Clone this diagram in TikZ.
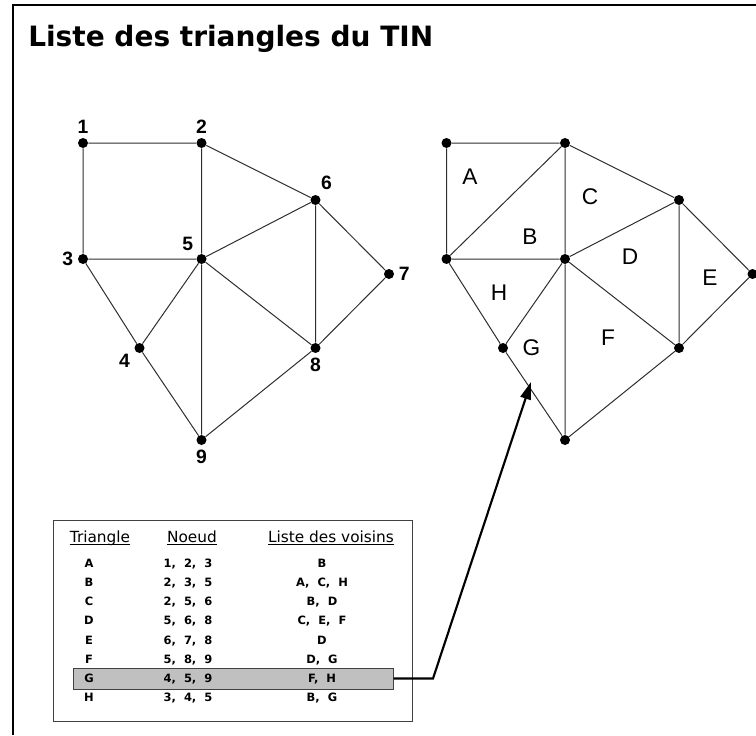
\documentclass[tikz,border=0pt]{standalone}
\usepackage{fontspec}
\setmainfont{Liberation Sans}
\newfontfamily\comicf{DejaVu Sans}
\usetikzlibrary{arrows.meta}
\definecolor{edgec}{HTML}{2E2E2E}
\definecolor{rowc}{HTML}{C0C0C0}
\definecolor{boxc}{HTML}{404040}
\newcommand\cellfont{\comicf\bfseries\fontsize{8.6}{10}\selectfont\spaceskip 0.7em\relax}
\tikzset{
  vtx/.style={circle, fill=black, inner sep=0pt, minimum size=7.5pt},
  num/.style={font=\bfseries\fontsize{14.5}{16}\selectfont},
  tri/.style={font=\fontsize{17}{19}\selectfont},
  edge/.style={draw=edgec, line width=0.75pt},
  hdr/.style={font=\comicf\fontsize{11.5}{13}\selectfont, inner sep=0pt, anchor=base},
  cell/.style={font=\cellfont, inner sep=0pt, anchor=base},
  rowbox/.style={draw=boxc, fill=rowc, line width=0.75pt, minimum width=240pt, minimum height=15.75pt, inner sep=0pt},
  fleche/.style={line width=1.6pt, -{Triangle[length=13pt,width=8pt]}}
}
\begin{document}
\begin{tikzpicture}[x=0.75pt, y=-0.75pt]
  \useasboundingbox (0,0) rectangle (756,735);
  % frame and title
  \draw[line width=1.5pt] (756,5.5) -- (12.5,5.5) -- (12.5,735);
  \node[font=\comicf\bfseries\fontsize{21}{24}\selectfont, inner sep=0pt, anchor=base west] (titre) at (28,47) {Liste des triangles du TIN};
  % TIN nodes
  \node[vtx, label={[num]above:1}] (p1) at (83,143) {};    \node[vtx, label={[num]above:2}] (p2) at (201.5,143) {};
  \node[vtx, label={[num]left:3}] (p3) at (83,259) {};     \node[vtx, label={[num]200:4}] (p4) at (139.5,348) {};
  \node[vtx, label={[num]134:5}] (p5) at (201.5,259) {};   \node[vtx, label={[num]80:6}] (p6) at (315.5,200) {};
  \node[vtx, label={[num]right:7}] (p7) at (389,274) {};   \node[vtx, label={[num]below:8}] (p8) at (315.5,348) {};
  \node[vtx, label={[num]below:9}] (p9) at (201.5,440) {};
  \draw[edge] (p1) -- (p2) -- (p6) -- (p7) -- (p8) -- (p9) -- (p4) -- (p3) -- (p1);
  \draw[edge] (p2) -- (p5) -- (p9) (p3) -- (p5) -- (p6) -- (p8) -- (p5) -- (p4);
  % triangles
  \node[vtx] (q1) at (446.5,143) {}; \node[vtx] (q2) at (565,143) {}; \node[vtx] (q3) at (446.5,259) {};
  \node[vtx] (q4) at (503,348) {};   \node[vtx] (q5) at (565,259) {}; \node[vtx] (q6) at (679,200) {};
  \node[vtx] (q7) at (752.5,274) {}; \node[vtx] (q8) at (679,348) {}; \node[vtx] (q9) at (565,440) {};
  \draw[edge] (q1) -- (q2) -- (q6) -- (q7) -- (q8) -- (q9) -- (q4) -- (q3) -- (q1);
  \draw[edge] (q2) -- (q5) -- (q9) (q3) -- (q5) -- (q6) -- (q8) -- (q5) -- (q4) (q2) -- (q3);
  \node[tri] (lA) at (470,177) {A}; \node[tri] (lB) at (530,237) {B}; \node[tri] (lC) at (590,197) {C};
  \node[tri] (lD) at (630,257) {D}; \node[tri] (lE) at (710,278) {E}; \node[tri] (lF) at (608,338) {F};
  \node[tri] (lG) at (531.5,348) {G}; \node[tri] (lH) at (499,293) {H};
  % table
  \draw[boxc, line width=0.75pt] (53,520) rectangle (412,721);
  \node[rowbox] (rowG) at (233,678.5) {};
  \node[hdr] (hTri) at (100,542) {Triangle}; \node[hdr] (hNoe) at (192,542) {Noeud}; \node[hdr] (hVois) at (331,542) {Liste des voisins};
  \foreach \h in {hTri, hNoe, hVois}
    \draw[line width=0.75pt] ([yshift=-2.2pt]\h.base west) -- ([yshift=-2.2pt]\h.base east);
  \node[cell] (tA) at (89,567.5) {A}; \node[cell] (nA) at (188,567.5) {1, 2, 3}; \node[cell] (vA) at (322,567.5) {B};
  \node[cell] (tB) at (89,586.6) {B}; \node[cell] (nB) at (188,586.6) {2, 3, 5}; \node[cell] (vB) at (322,586.6) {A, C, H};
  \node[cell] (tC) at (89,605.8) {C}; \node[cell] (nC) at (188,605.8) {2, 5, 6}; \node[cell] (vC) at (322,605.8) {B, D};
  \node[cell] (tD) at (89,624.9) {D}; \node[cell] (nD) at (188,624.9) {5, 6, 8}; \node[cell] (vD) at (322,624.9) {C, E, F};
  \node[cell] (tE) at (89,644.1) {E}; \node[cell] (nE) at (188,644.1) {6, 7, 8}; \node[cell] (vE) at (322,644.1) {D};
  \node[cell] (tF) at (89,663.2) {F}; \node[cell] (nF) at (188,663.2) {5, 8, 9}; \node[cell] (vF) at (322,663.2) {D, G};
  \node[cell] (tG) at (89,682.3) {G}; \node[cell] (nG) at (188,682.3) {4, 5, 9}; \node[cell] (vG) at (322,682.3) {F, H};
  \node[cell] (tH) at (89,701.5) {H}; \node[cell] (nH) at (188,701.5) {3, 4, 5}; \node[cell] (vH) at (322,701.5) {B, G};
  % arrow to triangle G
  \coordinate (coude) at (433,678.5);
  \coordinate (pointe) at (531,382);
  \draw[fleche] (rowG.east) -- (coude) -- (pointe);
\end{tikzpicture}
\end{document}
